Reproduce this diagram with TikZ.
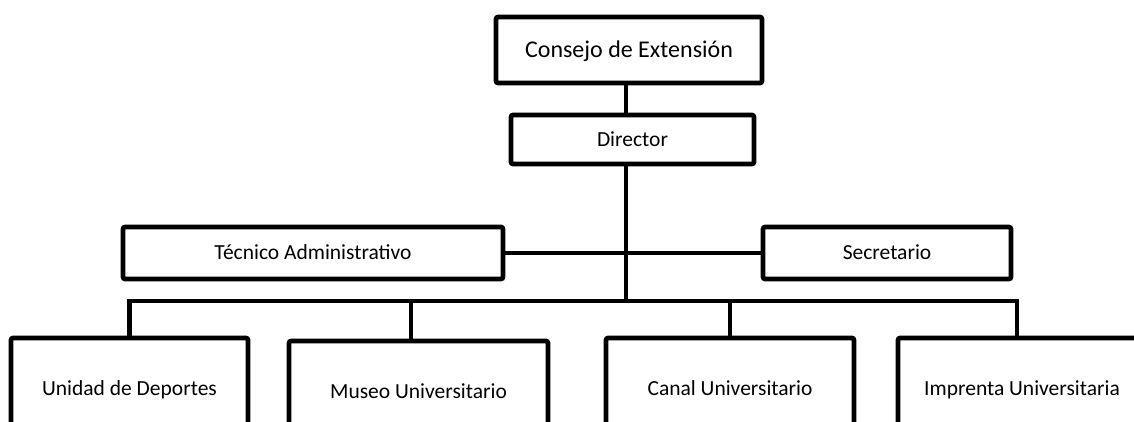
\documentclass[tikz,border=0pt]{standalone}
\usepackage{fontspec}
\setmainfont{Carlito}
\usepackage{tikz}
\usetikzlibrary{positioning}
\tikzset{
  orgbox/.style={draw, line width=4.6pt, rounded corners=2pt, fill=white,
                 outer sep=0pt, inner sep=0pt, align=center,
                 text height=13.8pt, text depth=0pt,
                 font=\fontsize{21.5}{25}\selectfont},
  topbox/.style={orgbox, text height=15.4pt, font=\fontsize{24}{28}\selectfont},
  link/.style={line width=4.6pt},
}
\begin{document}
\begin{tikzpicture}[x=1pt, y=-1pt]

  \clip (0,0) rectangle (1134,421);

  \node[topbox, minimum width=266pt, minimum height=66pt] at (629,50)
    (consejo) {Consejo de Extensión};
  \node[orgbox, minimum width=243pt, minimum height=49pt,
        below=32pt of consejo, xshift=3.5pt]
    (director) {Director};

  % staff
  \node[orgbox, minimum width=380pt, minimum height=52pt,
        below=63pt of director, xshift=-319.5pt]
    (tecnico) {Técnico Administrativo};
  \node[orgbox, minimum width=248pt, minimum height=52pt,
        right=260pt of tecnico]
    (secretario) {Secretario};

  % unidades
  \node[orgbox, minimum width=237pt, minimum height=102pt,
        below=59pt of tecnico, xshift=-183.5pt]
    (unidad) {Unidad de Deportes};
  \node[orgbox, minimum width=259pt, minimum height=102pt,
        right=41pt of unidad, yshift=-3pt]
    (museo) {Museo Universitario};
  \node[orgbox, minimum width=248pt, minimum height=102pt,
        right=58pt of museo, yshift=3pt]
    (canal) {Canal Universitario};
  \node[orgbox, minimum width=248pt, minimum height=102pt,
        right=44pt of canal]
    (imprenta) {Imprenta Universitaria};

  \coordinate (hub) at (626,301);

  \draw[link] (consejo.south -| hub) -- (director.north -| hub);
  \draw[link] (director.south -| hub) -- (hub);
  \draw[link] (tecnico) -- (secretario);
  \draw[link] (unidad.north) |- (hub) -| ([xshift=-5pt]imprenta.north);
  \draw[link] ([xshift=-7.5pt]museo.north) -- ([xshift=-7.5pt]museo.north |- hub);
  \draw[link] (canal.north) -- (canal.north |- hub);

\end{tikzpicture}
\end{document}
